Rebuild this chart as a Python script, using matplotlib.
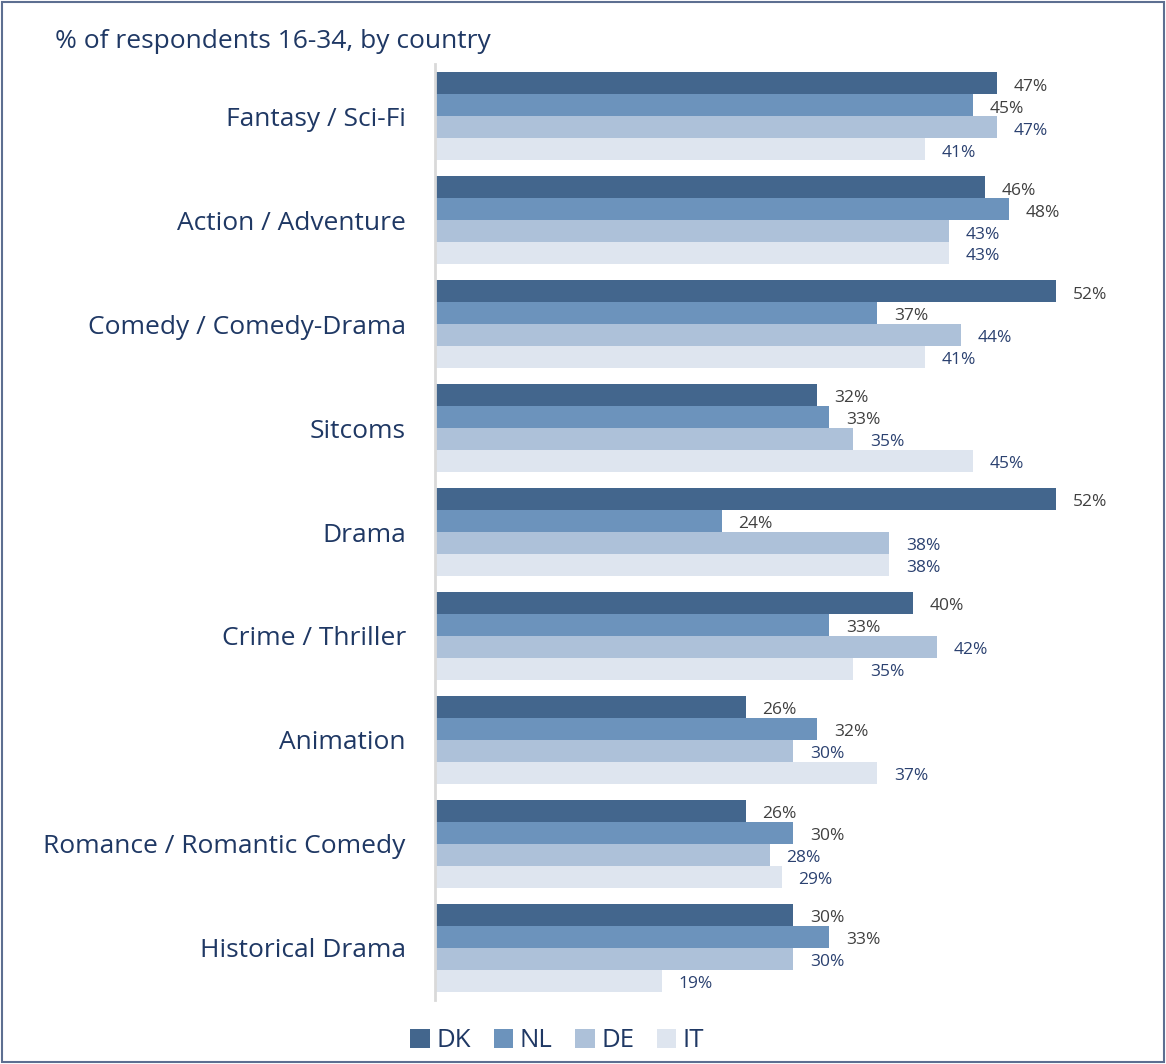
import matplotlib.pyplot as plt
import numpy as np
from matplotlib.patches import Rectangle

plt.rcParams['font.family'] = ['Open Sans', 'DejaVu Sans']

genres = ['Fantasy / Sci-Fi', 'Action / Adventure', 'Comedy / Comedy-Drama',
          'Sitcoms', 'Drama', 'Crime / Thriller', 'Animation',
          'Romance / Romantic Comedy', 'Historical Drama']
countries = ['DK', 'NL', 'DE', 'IT']
dk = [47, 46, 52, 32, 52, 40, 26, 26, 30]
nl = [45, 48, 37, 33, 24, 33, 32, 30, 33]
de = [47, 43, 44, 35, 38, 42, 30, 28, 30]
it = [41, 43, 41, 45, 38, 35, 37, 29, 19]

colors = ['#43668D', '#6C93BC', '#ADC1D9', '#DEE5EF']
label_colors = ['#404040', '#404040', '#2B4170', '#2B4170']
navy = '#1F3864'

fig = plt.figure(figsize=(11.66, 10.64), dpi=100)
ax = fig.add_axes([0.373, 0.0602, 0.615, 0.8796])

y = np.arange(len(genres))
h = 0.2115
for i, (vals, c) in enumerate(zip([dk, nl, de, it], colors)):
    pos = y - 1.5 * h + i * h
    ax.barh(pos, vals, height=h, color=c, label=countries[i])
    for p, v in zip(pos, vals):
        ax.annotate(f'{v}%', (v, p), xytext=(12, -2.5), textcoords='offset points',
                    va='center', ha='left', fontsize=12.5, color=label_colors[i])

ax.set_xlim(0, 60)
ax.set_ylim(len(genres) - 0.5, -0.5)
ax.set_yticks(y)
ax.set_yticklabels(genres, fontsize=19, color=navy)
ax.tick_params(axis='y', length=0, pad=21)
ax.set_xticks([])
for s in ['top', 'right', 'bottom']:
    ax.spines[s].set_visible(False)
ax.spines['left'].set_color('#D9D9D9')
ax.spines['left'].set_linewidth(2)

fig.text(0.047, 0.961, '% of respondents 16-34, by country', fontsize=19,
         color=navy, va='center')

leg = fig.legend(loc='center', bbox_to_anchor=(0.478, 0.022), ncol=4, frameon=False,
                 fontsize=18.5, handlelength=0.75, handleheight=0.75, handletextpad=0.25,
                 columnspacing=0.9)
for t in leg.get_texts():
    t.set_color(navy)

# outer frame
fig.patches.append(Rectangle((0.002, 0.002), 0.996, 0.996, transform=fig.transFigure,
                             fill=False, edgecolor='#5D6F91', linewidth=1.5))

fig.savefig('out.png', dpi=100)
